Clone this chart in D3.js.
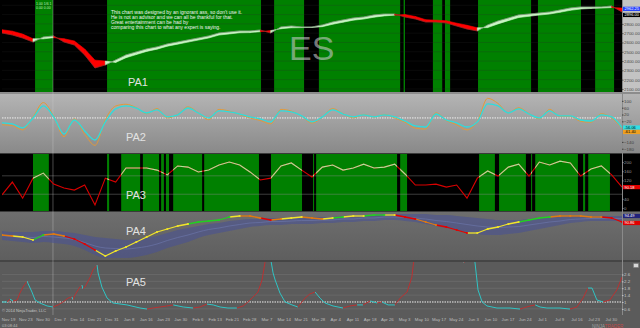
<!DOCTYPE html>
<html>
<head>
<meta charset="utf-8">
<script src="https://cdn.jsdelivr.net/npm/d3@7"></script>
<style>
  html, body { margin: 0; padding: 0; background: #5b5b5b; overflow: hidden; }
  svg { display: block; font-family: Arial, "Liberation Sans", sans-serif; }
</style>
</head>
<body>
<div id="chart"></div>
<script>
// one sampled value every 3 daily bars, bar 0 .. 180
const sampleStep = 3;

const dateLabels = ["Nov 19", "Nov 23", "Nov 30", "Dec 7", "Dec 14", "Dec 21", "Dec 31", "Jan 8", "Jan 16",
  "Jan 23", "Jan 30", "Feb 6", "Feb 13", "Feb 21", "Feb 28", "Mar 7", "Mar 14", "Mar 21", "Mar 28", "Apr 4",
  "Apr 11", "Apr 18", "Apr 26", "May 3", "May 10", "May 17", "May 24", "Jun 3", "Jun 10", "Jun 17", "Jun 24",
  "Jul 1", "Jul 9", "Jul 16", "Jul 23", "Jul 30"];
const dateFirstBar = 1.75;
const dateStepBars = 5;

// PA1 : price ribbon (fast / slow average)
const priceTicks = [3000, 2900, 2800, 2700, 2600, 2500, 2400, 2300, 2200, 2100];
const maFast = [2702, 2681, 2648, 2605, 2659, 2670, 2605, 2573, 2466, 2326, 2358, 2412, 2466, 2498, 2530, 2552,
  2584, 2605, 2627, 2648, 2670, 2702, 2713, 2724, 2724, 2734, 2702, 2767, 2777, 2767, 2767, 2788, 2820, 2842,
  2863, 2874, 2896, 2906, 2906, 2874, 2853, 2820, 2820, 2810, 2777, 2745, 2724, 2788, 2831, 2863, 2896, 2906,
  2917, 2928, 2949, 2971, 2982, 2982, 2982, 2992, 2928];
const maSlow = [2737, 2722, 2690, 2640, 2639, 2652, 2640, 2616, 2530, 2410, 2400, 2385, 2436, 2470, 2504, 2528,
  2560, 2582, 2604, 2626, 2648, 2680, 2692, 2704, 2706, 2716, 2728, 2748, 2758, 2760, 2762, 2770, 2796, 2818,
  2840, 2852, 2872, 2886, 2894, 2900, 2880, 2845, 2840, 2833, 2808, 2785, 2758, 2760, 2800, 2835, 2868, 2882,
  2895, 2906, 2925, 2946, 2960, 2966, 2970, 2976, 2970];
const pa1GreenBands = [[9.6, 14.8], [30.5, 75.2], [79.0, 87.7], [92.0, 115.6], [116.6, 117.0], [125.1, 127.8],
  [128.6, 130.1], [138.2, 153.6], [155.6, 168.1], [172.2, 177.7]];

// PA2 : two oscillators
const pa2Ticks = [100, 60, 20, -20, -60, -100, -140, -180];
const pa2Cyan = [-29, -35, -58, 0, 70, 6, -94, -12, -76, -129, -23, 53, 70, 58, 29, 47, 6, 18, 58, 29, 0, 41, 35,
  23, 6, -6, -23, 41, 35, 12, -23, 6, 47, 23, 6, 18, 6, 18, 6, -18, -47, -53, 23, -12, -29, -53, -23, 82, 70, 29,
  53, 23, 0, 41, 12, 12, -12, -18, 18, 6, -56];
const pa2Orange = [-40, -45, -70, 5, 90, 10, -110, -5, -95, -160, -10, 70, 80, 60, 25, 55, 0, 20, 65, 30, -10, 50,
  40, 20, 0, -15, -35, 50, 40, 10, -30, 5, 55, 25, 0, 20, 5, 20, 0, -25, -60, -65, 30, -15, -40, -70, -20, 115, 85,
  30, 60, 25, -5, 50, 10, 10, -20, -25, 25, 0, -61];

// PA3 : strength line
const pa3Ticks = [200, 160, 120, 80, 40, 0];
const pa3Line = [57, 113, 43, 130, 152, 104, 87, 78, 100, 13, 130, 113, 174, 174, 174, 165, 144, 183, 178, 157, 165,
  187, 200, 187, 157, 122, 130, 183, 196, 165, 135, 178, 187, 165, 174, 191, 174, 178, 191, 148, 100, 100, 104,
  91, 100, 43, 130, 161, 139, 178, 191, 139, 200, 187, 204, 196, 139, 170, 183, 144, 91];
const pa3GreenBands = [[9.0, 13.6], [30.5, 31.1], [34.6, 40.1], [40.9, 45.6], [46.2, 47.0], [47.6, 48.5],
  [49.7, 58.1], [58.7, 74.6], [78.1, 87.1], [90.3, 90.6], [91.2, 114.7], [115.6, 117.6], [138.5, 143.1],
  [144.3, 152.1], [153.6, 153.9], [154.8, 167.2], [168.7, 169.3], [170.2, 176.5]];

// PA4 : trend line with state colours and its envelope
const pa4Line = [78, 77, 76, 73, 78, 79, 77, 74, 69, 63, 57, 62, 66, 71, 76, 81, 84, 87, 89, 91, 92, 93, 96, 97, 97,
  95, 93, 94, 95, 96, 95, 94, 95, 96, 97, 97, 98, 98, 98, 96, 94, 91, 88, 86, 83, 80, 80, 84, 86, 89, 91, 93, 95,
  96, 97, 97, 97, 96, 96, 95, 91];
const pa4State = ["o", "o", "y", "y", "g", "o", "o", "r", "r", "r", "y", "y", "y", "y", "y", "y", "y", "y", "y", "g",
  "g", "g", "g", "y", "o", "o", "r", "o", "y", "y", "o", "o", "y", "g", "y", "y", "g", "g", "y", "r", "r", "o", "o",
  "r", "r", "r", "y", "y", "y", "y", "y", "g", "g", "g", "o", "o", "o", "o", "o", "r", "r"];
const pa4Upper = [82, 81, 81, 81, 82, 82, 81, 80, 78, 76, 75, 74, 73, 74, 75, 77, 80, 83, 85, 87, 89, 90, 92, 93, 94,
  94, 95, 95, 95, 96, 96, 96, 96, 97, 97, 98, 98, 99, 99, 99, 99, 99, 98, 98, 97, 96, 95, 94, 93, 93, 93, 94, 95,
  96, 96, 97, 97, 97, 97, 97, 97];
const pa4Lower = [73, 72, 71, 70, 71, 70, 69, 67, 63, 58, 55, 55, 55, 56, 58, 61, 65, 68, 71, 75, 78, 80, 82, 84, 86,
  87, 88, 88, 89, 89, 89, 90, 90, 91, 91, 92, 92, 93, 93, 92, 91, 89, 87, 85, 83, 81, 79, 78, 78, 79, 80, 82, 84,
  86, 88, 90, 91, 92, 92, 92, 92];

// PA5 : ratio line (bar, value)
const pa5Ticks = [2.6, 2.2, 1.8, 1.4, 1, 0.6];
const pa5Bars = [0, 1.5, 2.3, 3.2, 4.4, 5.2, 6.1, 7.3, 7.5, 8.7, 9.6, 11.0, 13.1, 14.8, 16.3, 17.7, 19.2, 20.3, 20.6,
  21.2, 22.6, 23.2, 23.5, 24.1, 25.6, 26.4, 27.6, 27.9, 29.0, 30.5, 32.2, 36.3, 40.1, 42.1, 43.8, 45.9, 47.9, 49.7,
  52.6, 55.5, 57.5, 59.5, 61.3, 63.3, 65.6, 68.2, 70.0, 71.4, 72.9, 74.3, 75.5, 76.7, 77.8, 78.7, 79.3, 80.7, 82.2,
  84.2, 85.9, 88.0, 89.4, 90.9, 92.3, 93.8, 96.1, 99.0, 101.0, 103.1, 104.8, 106.9, 108.9, 110.3, 112.1, 114.1,
  115.6, 117.6, 119.0, 119.9, 127.2, 131.5, 134.1, 135.3, 136.8, 137.3, 138.2, 139.4, 140.8, 143.7, 147.5, 150.4,
  151.3, 153.3, 154.8, 156.2, 158.2, 160.0, 162.0, 164.9, 166.9, 168.7, 170.1, 171.3, 172.7, 174.5, 176.5, 178.5,
  180.0];
const pa5Values = [1.00, 1.00, 1.17, 1.06, 1.12, 1.52, 1.87, 2.22, 2.10, 1.58, 1.12, 0.94, 0.77, 0.71, 0.83, 1.00,
  1.23, 1.29, 1.12, 1.41, 1.87, 1.99, 1.76, 1.87, 2.45, 2.86, 3.15, 2.69, 1.87, 1.23, 0.94, 0.83, 0.65, 0.59, 0.65,
  0.71, 0.77, 0.83, 0.71, 0.65, 0.71, 0.88, 0.83, 0.71, 0.65, 0.65, 0.77, 1.00, 1.29, 1.58, 2.28, 3.73, 3.73, 2.69,
  2.28, 1.52, 1.00, 0.83, 0.71, 1.23, 1.47, 1.58, 1.23, 0.94, 0.77, 0.65, 0.77, 0.83, 0.83, 1.06, 0.94, 1.00, 0.83,
  0.83, 1.23, 1.58, 2.45, 4.02, 5.77, 4.31, 3.27, 4.02, 4.02, 3.33, 1.70, 1.00, 0.77, 0.65, 0.65, 0.59, 0.65, 0.77,
  0.83, 0.71, 0.65, 0.65, 0.65, 0.59, 0.71, 1.23, 1.81, 1.81, 1.12, 1.00, 1.12, 1.70, 2.45];

// ---------------------------------------------------------------------------
const W = 640, H = 328;
const plotL = 2, plotR = 622;
const panels = {
  pa1: [0, 92], pa2: [94, 153], pa3: [154, 211], pa4: [212, 261], pa5: [262, 315]
};

const svg = d3.select("#chart").append("svg").attr("width", W).attr("height", H);
const defs = svg.append("defs");

const x = d3.scaleLinear().domain([0, 180]).range([plotL, plotR]);
const sx = (d, i) => x(i * sampleStep);

const y1 = d3.scaleLinear().domain([2067, 3057]).range(panels.pa1.slice().reverse());
const y2 = d3.scaleLinear().domain([-205, 140]).range(panels.pa2.slice().reverse());
const y3 = d3.scaleLinear().domain([-13, 235]).range(panels.pa3.slice().reverse());
const y4 = d3.scaleLinear().domain([52, 101]).range(panels.pa4.slice().reverse());
const y5 = d3.scaleLinear().domain([0.244, 3.326]).range(panels.pa5.slice().reverse());

function grad(id, top, bottom) {
  const g = defs.append("linearGradient").attr("id", id).attr("x1", 0).attr("y1", 0).attr("x2", 0).attr("y2", 1);
  g.append("stop").attr("offset", "0%").attr("stop-color", top);
  g.append("stop").attr("offset", "100%").attr("stop-color", bottom);
}
grad("g2", "#b4b4b4", "#898989");
grad("g4", "#6e6e6e", "#5e5e5e");

function clip(id, p) {
  defs.append("clipPath").attr("id", id).append("rect")
    .attr("x", plotL).attr("y", p[0]).attr("width", plotR - plotL).attr("height", p[1] - p[0]);
}
Object.keys(panels).forEach(k => clip("c_" + k, panels[k]));

// page background
svg.append("rect").attr("width", W).attr("height", H).attr("fill", "#5b5b5b");

// panel backgrounds
svg.append("rect").attr("x", 0).attr("y", 0).attr("width", plotR).attr("height", 92).attr("fill", "#000");
svg.append("rect").attr("x", plotR).attr("y", 0).attr("width", W - plotR).attr("height", 92).attr("fill", "#c3c3c3");
svg.append("rect").attr("x", 0).attr("y", 92).attr("width", W).attr("height", 2).attr("fill", "#8c8c8c");
svg.append("rect").attr("x", 0).attr("y", 94).attr("width", W).attr("height", 59).attr("fill", "url(#g2)");
svg.append("rect").attr("x", 0).attr("y", 153).attr("width", W).attr("height", 1).attr("fill", "#3a3a3a");
svg.append("rect").attr("x", 0).attr("y", 154).attr("width", W).attr("height", 57).attr("fill", "#000");
svg.append("rect").attr("x", 0).attr("y", 211).attr("width", W).attr("height", 1).attr("fill", "#3a3a3a");
svg.append("rect").attr("x", 0).attr("y", 212).attr("width", W).attr("height", 49).attr("fill", "url(#g4)");
svg.append("rect").attr("x", 0).attr("y", 260).attr("width", W).attr("height", 2).attr("fill", "#454545");

// regime bands
const bandLayer = (bands, p) => svg.append("g").selectAll("rect").data(bands).join("rect")
  .attr("x", d => x(d[0])).attr("width", d => Math.max(1, x(d[1]) - x(d[0])))
  .attr("y", p[0]).attr("height", p[1] - p[0]).attr("fill", "#008000");
bandLayer(pa1GreenBands, panels.pa1);
bandLayer(pa3GreenBands, panels.pa3);

// gridlines
svg.append("g").selectAll("line").data(priceTicks).join("line")
  .attr("x1", plotL).attr("x2", plotR).attr("y1", d => y1(d)).attr("y2", d => y1(d))
  .attr("stroke", "#2b2b2b").attr("stroke-opacity", 0.4).attr("stroke-width", 0.6);
svg.append("g").selectAll("line").data([140, 60]).join("line")
  .attr("x1", plotL).attr("x2", plotR).attr("y1", d => y3(d)).attr("y2", d => y3(d))
  .attr("stroke", "#8a8a8a").attr("stroke-opacity", 0.55).attr("stroke-width", 0.8);
svg.append("g").selectAll("line").data(pa5Ticks.filter(d => d !== 1)).join("line")
  .attr("x1", plotL).attr("x2", plotR).attr("y1", d => y5(d)).attr("y2", d => y5(d))
  .attr("stroke", "#6c6c6c").attr("stroke-width", 0.8);

// crosshair
svg.append("line").attr("x1", x(14.8)).attr("x2", x(14.8)).attr("y1", 0).attr("y2", panels.pa5[1])
  .attr("stroke", "#d0d0d0").attr("stroke-opacity", 0.45).attr("stroke-width", 0.8);

// ---- PA1 ribbon
const g1 = svg.append("g").attr("clip-path", "url(#c_pa1)");
const ribbon = d3.range(maFast.length - 1).map(i => ({
  pts: [[sx(0, i), y1(maFast[i])], [sx(0, i + 1), y1(maFast[i + 1])],
        [sx(0, i + 1), y1(maSlow[i + 1])], [sx(0, i), y1(maSlow[i])]],
  up: maFast[i + 1] >= maSlow[i + 1]
}));
g1.selectAll("path.rib").data(ribbon).join("path").attr("class", "rib")
  .attr("d", d => "M" + d.pts.join("L") + "Z")
  .attr("fill", d => d.up ? "#c9f5c4" : "#ff0000")
  .attr("stroke", d => d.up ? "#c9f5c4" : "#ff0000").attr("stroke-width", 0.6);
g1.append("path").datum(maFast)
  .attr("d", d3.line().x(sx).y(d => y1(d)))
  .attr("fill", "none").attr("stroke", "#4a4a4a").attr("stroke-width", 0.6).attr("stroke-opacity", 0.7);

// ---- PA2
const g2 = svg.append("g").attr("clip-path", "url(#c_pa2)");
g2.append("line").attr("x1", plotL).attr("x2", W).attr("y1", y2(0)).attr("y2", y2(0))
  .attr("stroke", "#f0f0f0").attr("stroke-dasharray", "1.5,1").attr("stroke-width", 1);
const line2 = d3.line().x(sx).y(d => y2(d)).curve(d3.curveMonotoneX);
g2.append("path").datum(pa2Orange).attr("d", line2).attr("fill", "none").attr("stroke", "#e29a3a").attr("stroke-width", 1);
g2.append("path").datum(pa2Cyan).attr("d", line2).attr("fill", "none").attr("stroke", "#2fdcdc").attr("stroke-width", 1.3);

// ---- PA3 (red everywhere, light green inside green regimes)
const c3 = defs.append("clipPath").attr("id", "c_pa3g");
c3.selectAll("rect").data(pa3GreenBands).join("rect")
  .attr("x", d => x(d[0])).attr("width", d => Math.max(1, x(d[1]) - x(d[0])))
  .attr("y", panels.pa3[0]).attr("height", panels.pa3[1] - panels.pa3[0]);
const line3 = d3.line().x(sx).y(d => y3(d));
svg.append("g").attr("clip-path", "url(#c_pa3)").append("path").datum(pa3Line).attr("d", line3)
  .attr("fill", "none").attr("stroke", "#d80000").attr("stroke-width", 1.1);
svg.append("g").attr("clip-path", "url(#c_pa3g)").append("path").datum(pa3Line).attr("d", line3)
  .attr("fill", "none").attr("stroke", "#a8e898").attr("stroke-width", 1.1);

// ---- PA4
const g4 = svg.append("g").attr("clip-path", "url(#c_pa4)");
g4.append("path").datum(pa4Upper)
  .attr("d", d3.area().x(sx).y0((d, i) => y4(pa4Lower[i])).y1(d => y4(d)).curve(d3.curveMonotoneX))
  .attr("fill", "#4a5292").attr("fill-opacity", 0.6);
g4.append("path").datum(pa4Upper.map((d, i) => (d + pa4Lower[i]) / 2))
  .attr("d", d3.line().x(sx).y(d => y4(d)).curve(d3.curveMonotoneX))
  .attr("fill", "none").attr("stroke", "#6a74a8").attr("stroke-width", 0.7);
const stateColor = { r: "#e40000", o: "#e07a10", y: "#f2e52a", g: "#22d022" };
g4.selectAll("line.seg").data(d3.range(pa4Line.length - 1)).join("line").attr("class", "seg")
  .attr("x1", i => sx(0, i)).attr("x2", i => sx(0, i + 1))
  .attr("y1", i => y4(pa4Line[i])).attr("y2", i => y4(pa4Line[i + 1]))
  .attr("stroke", i => stateColor[pa4State[i + 1]]).attr("stroke-width", 1.3);
g4.selectAll("rect.dot").data(pa4Line).join("rect").attr("class", "dot")
  .attr("x", (d, i) => sx(d, i) - 0.9).attr("y", d => y4(d) - 0.9).attr("width", 1.8).attr("height", 1.8)
  .attr("fill", (d, i) => stateColor[pa4State[i]]);

// ---- PA5
const g5 = svg.append("g").attr("clip-path", "url(#c_pa5)");
g5.append("line").attr("x1", plotL).attr("x2", W).attr("y1", y5(1)).attr("y2", y5(1))
  .attr("stroke", "#f0f0f0").attr("stroke-dasharray", "1.5,1").attr("stroke-width", 1);
g5.selectAll("line.seg").data(d3.range(pa5Bars.length - 1)).join("line").attr("class", "seg")
  .attr("x1", i => x(pa5Bars[i])).attr("x2", i => x(pa5Bars[i + 1]))
  .attr("y1", i => y5(pa5Values[i])).attr("y2", i => y5(pa5Values[i + 1]))
  .attr("stroke", i => pa5Values[i + 1] > pa5Values[i] ? "#b83232" : "#2fc4c4")
  .attr("stroke-width", 1);

// right axis separator
svg.append("line").attr("x1", plotR + 0.5).attr("x2", plotR + 0.5).attr("y1", 0).attr("y2", panels.pa5[1])
  .attr("stroke", "#8a8a8a").attr("stroke-width", 1);

// ---- value boxes on the right scale (positions in data units)
const boxes = [
  { scale: y1, v: 2962, text: "2962.25", bg: "#1f3cff", fg: "#fff" },
  { scale: y1, v: 2896, text: "2896.00", bg: "#000", fg: "#fff" },
  { scale: y2, v: pa2Cyan[pa2Cyan.length - 1], text: "-56.06", bg: "#30e0e6", fg: "#000" },
  { scale: y2, v: pa2Orange[pa2Orange.length - 1] - 21, text: "-61.40", bg: "#f0a020", fg: "#000" },
  { scale: y3, v: pa3Line[pa3Line.length - 1], text: "90.18", bg: "#e00000", fg: "#fff" },
  { scale: y4, v: pa4Upper[pa4Upper.length - 1], text: "94.49", bg: "#22227a", fg: "#fff" },
  { scale: y4, v: pa4Line[pa4Line.length - 1] - 1, text: "90.86", bg: "#e00000", fg: "#fff" }
];

// ---- axes (right side), ticks hidden behind a value box are dropped
function rightAxis(scale, ticks, fmt, color) {
  const boxYs = boxes.filter(b => b.scale === scale).map(b => b.scale(b.v));
  const shown = ticks.filter(t => boxYs.every(by => Math.abs(scale(t) - by) > 4.5));
  const g = svg.append("g").attr("transform", `translate(${plotR},0)`)
    .call(d3.axisRight(scale).tickValues(shown).tickFormat(fmt).tickSize(1.5).tickPadding(0.5));
  g.select(".domain").remove();
  g.selectAll("line").attr("stroke", color);
  g.selectAll("text").attr("fill", color).style("font-size", "4.4px");
}
rightAxis(y1, priceTicks, d3.format(".2f"), "#4a4a4a");
rightAxis(y2, pa2Ticks, d3.format("d"), "#3e3e3e");
rightAxis(y3, pa3Ticks, d3.format("d"), "#9a9a9a");
rightAxis(y5, pa5Ticks, d => String(d), "#c8c8c8");

boxes.forEach(b => {
  const g = svg.append("g").attr("transform", `translate(${plotR + 1},${b.scale(b.v)})`);
  g.append("rect").attr("x", 0).attr("y", -2.1).attr("width", W - plotR - 1).attr("height", 4.2).attr("fill", b.bg);
  g.append("text").attr("x", 1.5).attr("y", 1.4).attr("fill", b.fg).style("font-size", "4px").text(b.text);
});

// small icon in PA5 axis
svg.append("rect").attr("x", 633.5).attr("y", 263.5).attr("width", 5).attr("height", 4)
  .attr("fill", "#d8d8d8").attr("stroke", "#777").attr("stroke-width", 0.5);

// ---- date axis
const xa = svg.append("g").attr("transform", `translate(0,${panels.pa5[1]})`)
  .call(d3.axisBottom(x).tickValues(dateLabels.map((d, i) => dateFirstBar + i * dateStepBars))
    .tickFormat((d, i) => dateLabels[i]).tickSize(0).tickPadding(2.5));
xa.select(".domain").remove();
xa.selectAll("text").attr("fill", "#bdbdbd").style("font-size", "4.3px");

// ---- texts
[["PA1", 86], ["PA2", 141], ["PA3", 199], ["PA4", 235], ["PA5", 286]].forEach(([t, yy], i) => {
  svg.append("text").attr("x", i === 0 ? 128 : 126).attr("y", yy)
    .attr("fill", "#e2e2e2").style("font-size", "11px").text(t);
});

svg.append("text").attr("x", 289).attr("y", 60).attr("fill", "#c8c8c8").attr("fill-opacity", 0.6)
  .style("font-size", "34px").text("ES");

const note = ["This chart was designed by an ignorant ass, so don't use it.",
  "He is not an advisor and we can all be thankful for that.",
  "Great entertainment can be had by",
  "comparing this chart to what any expert is saying."];
svg.append("g").selectAll("text").data(note).join("text")
  .attr("x", 111).attr("y", (d, i) => 13.5 + i * 5.3)
  .attr("fill", "#f0f0f0").style("font-size", "5px").text(d => d);

svg.append("text").attr("x", 36).attr("y", 4.5).attr("fill", "#bfe8bf").style("font-size", "3.5px").text("1.00 1/6 1");
svg.append("text").attr("x", 36).attr("y", 8.5).attr("fill", "#bfe8bf").style("font-size", "3.5px").text("0.00 0.00");

svg.append("text").attr("x", 2).attr("y", 312).attr("fill", "#c8c8c8").style("font-size", "4px")
  .text("\u00a9 2014 NinjaTrader, LLC");
svg.append("text").attr("x", 2).attr("y", 327).attr("fill", "#bdbdbd").style("font-size", "4px").text("03:08:44");

const logo = svg.append("text").attr("x", 592).attr("y", 327.6).style("font-size", "4.5px");
logo.append("tspan").attr("fill", "#a0a0a0").text("NINJA");
logo.append("tspan").attr("fill", "#c24a4a").text("TRADER");
</script>
</body>
</html>
